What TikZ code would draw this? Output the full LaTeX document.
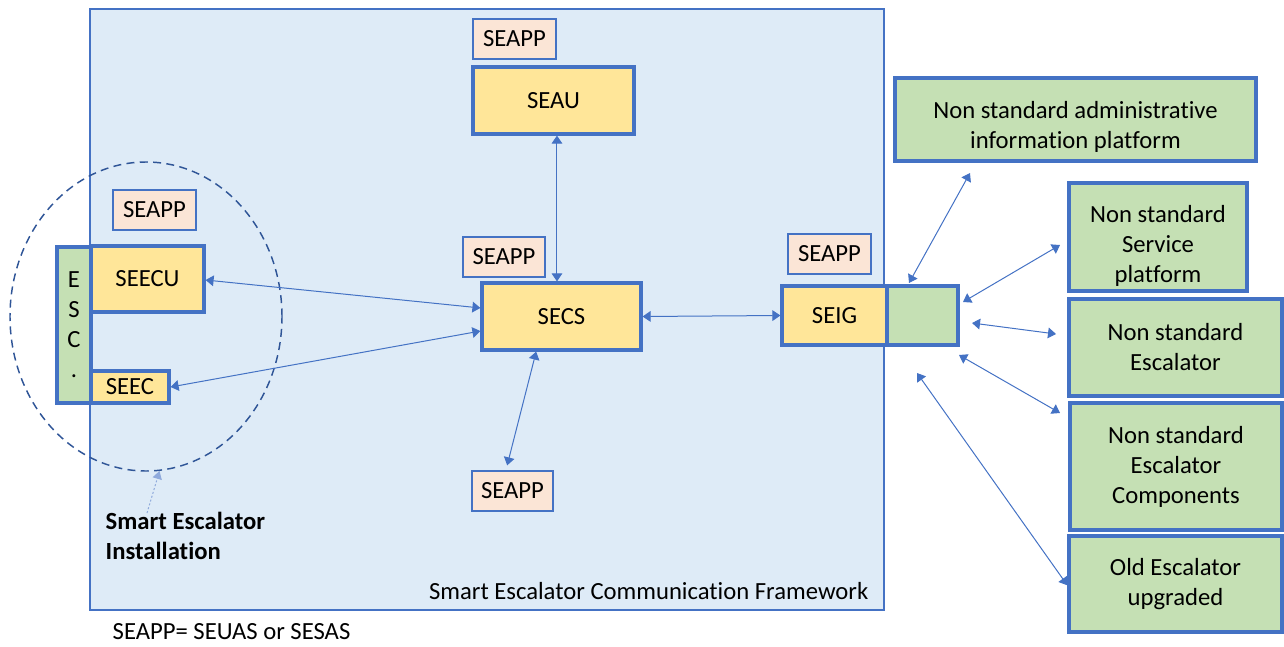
\documentclass[tikz,border=0pt]{standalone}
\usepackage{fontspec}
\setmainfont{Carlito}[Ligatures=NoCommon]
\usetikzlibrary{arrows.meta,shapes.geometric}
\definecolor{bl}{HTML}{4472C4}
\definecolor{fwfill}{HTML}{DEEBF7}
\definecolor{yel}{HTML}{FFE699}
\definecolor{peach}{HTML}{FBE5D6}
\definecolor{grn}{HTML}{C5E0B4}
\definecolor{navy}{HTML}{2F5597}
\definecolor{lbl}{HTML}{8FAADC}
\begin{document}
\begin{tikzpicture}[x=0.75pt,y=-0.75pt,
  font=\fontsize{18.5}{22.5}\selectfont,
  sz/.style 2 args={minimum width=#1*0.75pt, minimum height=#2*0.75pt},
  thickbox/.style={draw=bl, line width=2.4pt, inner sep=0pt, align=center},
  yelbox/.style={thickbox, fill=yel},
  grnbox/.style={thickbox, fill=grn},
  appbox/.style={draw=bl, line width=1.5pt, fill=peach, inner sep=0pt},
  boxtext/.style={align=center, inner sep=0pt},
  arr/.style={draw=bl, line width=0.75pt, {Triangle[length=6pt,width=8pt]}-{Triangle[length=6pt,width=8pt]}}
]
\useasboundingbox (0,0) rectangle (1284,646);

% framework
\node[sz={794}{601}, draw=bl, line width=1.2pt, fill=fwfill, inner sep=0pt] (fw) at (487,309.5) {};
\node[anchor=east] (fwlabel) at (873,591) {Smart Escalator Communication Framework};

% installation ellipse
\node[ellipse, draw=navy, line width=1.1pt, dash pattern=on 6pt off 4pt,
      sz={272}{309}, inner sep=0pt] (ell) at (146,316.5) {};

% centre boxes
\node[appbox, sz={83}{40}] (appU) at (514.5,39) {SEAPP};
\node[yelbox, sz={161}{67}] (seau) at (553.5,100.5) {SEAU};
\node[appbox, sz={82}{40}] (appS) at (504,257) {SEAPP};
\node[yelbox, sz={159}{67}] (secs) at (561.5,316.5) {SECS};
\node[appbox, sz={81}{40}] (appB) at (512.5,491) {SEAPP};
\node[appbox, sz={83}{40}] (appG) at (829.5,254) {SEAPP};
\node[yelbox, sz={105}{59}] (seig) at (834.5,315.5) {SEIG};
\node[grnbox, sz={71}{59}] (gw) at (922.5,315.5) {};

% left boxes
\node[appbox, sz={83}{40}] (appL) at (154.5,210) {SEAPP};
\node[grnbox, sz={34}{156}] (esc) at (74,325) {E\\S\\C\\.};
\node[yelbox, sz={113}{66}] (seecu) at (147.5,279) {SEECU};
\node[yelbox, sz={78}{32}] (seec) at (130,387) {\raisebox{-3pt}{SEEC}};

% right boxes
\node[grnbox, sz={361}{83}] (admin) at (1075.5,119.5) {};
\node[boxtext] (admintext) at (1075.5,127) {Non standard administrative\\information platform};
\node[grnbox, sz={178}{108}] (serv) at (1158,237) {};
\node[boxtext] (servtext) at (1158,246) {Non standard\\Service\\platform};
\node[grnbox, sz={213}{97}] (escl) at (1175.5,347.5) {Non standard\\Escalator};
\node[grnbox, sz={212}{127}] (comp) at (1176,466.5) {Non standard\\Escalator\\Components};
\node[grnbox, sz={213}{96}] (old) at (1175.5,584) {Old Escalator\\upgraded};

% texts
\node[anchor=west] (legend) at (108,632) {SEAPP= SEUAS or SESAS};
\node[anchor=west, align=left, font=\fontsize{18.5}{22.5}\selectfont\bfseries] (sei) at (101,536) {Smart Escalator\\Installation};

% connectors
\draw[arr] ([xshift=2.6pt]seau.south) -- ([xshift=-3.4pt]secs.north);
\draw[arr] ([yshift=6.4pt]secs.west) -- ([yshift=-0.75pt]seecu.east);
\draw[arr] ([yshift=-10.9pt]secs.west) -- (seec.east);
\draw[arr] ([xshift=-19pt]secs.south) -- ([xshift=-4pt,yshift=3.5pt]appB.north);
\draw[arr] (secs.east) -- (seig.west);

\coordinate (a1) at (909,283); \coordinate (b1) at (970,173);
\coordinate (a2) at (963,302); \coordinate (b2) at (1060,245);
\coordinate (a3) at (972,323); \coordinate (b3) at (1056,334);
\coordinate (a4) at (959,355); \coordinate (b4) at (1060,413);
\coordinate (a5) at (917,373);
\draw[arr] (a1) -- (b1);
\draw[arr] (a2) -- (b2);
\draw[arr] (a3) -- (b3);
\draw[arr] (a4) -- (b4);
\draw[arr] (a5) -- ([yshift=-1pt]old.west);

\coordinate (d0) at (147,513);
\draw[draw=lbl, line width=0.75pt, dash pattern=on 1.5pt off 1.5pt, -{Triangle[length=6pt,width=7pt]}] (d0) -- (ell.-85);
\end{tikzpicture}
\end{document}
